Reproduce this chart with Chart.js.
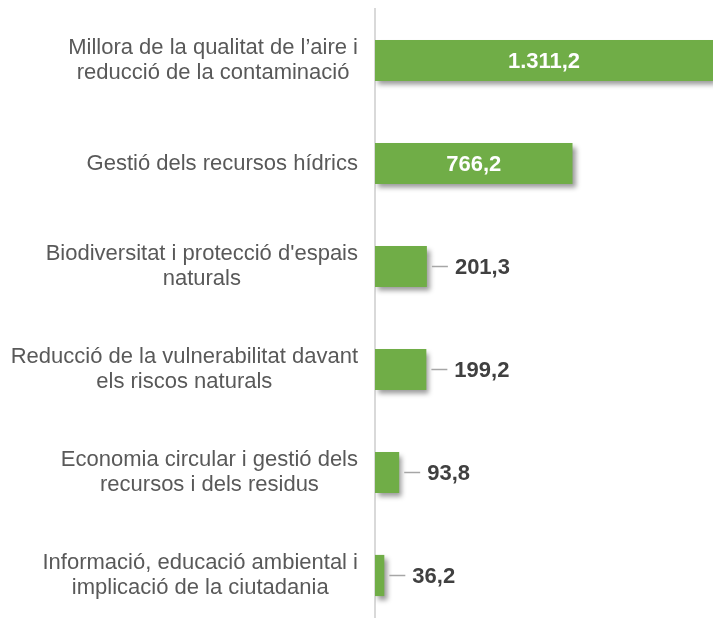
<!DOCTYPE html>
<html>
<head>
<meta charset="utf-8">
<script src="https://cdn.jsdelivr.net/npm/chart.js@4"></script>
<style>
  html, body { margin: 0; padding: 0; background: #fff; overflow: hidden; }
  #wrap { width: 713px; height: 628px; position: relative; }
</style>
</head>
<body>
<div id="wrap"><canvas id="envChart"></canvas></div>
<script>
const categories = [
  ['Millora de la qualitat de l’aire i', 'reducció de la contaminació'],
  ['Gestió dels recursos hídrics'],
  ["Biodiversitat i protecció d'espais", 'naturals'],
  ['Reducció de la vulnerabilitat davant', 'els riscos naturals'],
  ['Economia circular i gestió dels', 'recursos i dels residus'],
  ['Informació, educació ambiental i', 'implicació de la ciutadania']
];
const values = [1311.2, 766.2, 201.3, 199.2, 93.8, 36.2];

// catalan number format: 1.311,2
function fmt(v) {
  const parts = v.toFixed(1).split('.');
  return parts[0].replace(/\B(?=(\d{3})+(?!\d))/g, '.') + ',' + parts[1];
}

const shadowPlugin = {
  id: 'barShadow',
  beforeDatasetsDraw(chart) {
    const ctx = chart.ctx;
    ctx.save();
    ctx.shadowColor = 'rgba(0,0,0,0.4)';
    ctx.shadowBlur = 5;
    ctx.shadowOffsetX = 3;
    ctx.shadowOffsetY = 4;
  },
  afterDatasetsDraw(chart) {
    chart.ctx.restore();
  }
};

const labelPlugin = {
  id: 'labels',
  afterDraw(chart) {
    const ctx = chart.ctx;
    const yScale = chart.scales.y;
    ctx.save();
    ctx.textBaseline = 'middle';

    // category labels, lines centred inside a right-aligned block
    ctx.font = '22px "Liberation Sans", Arial, sans-serif';
    ctx.fillStyle = '#595959';
    ctx.textAlign = 'center';
    categories.forEach((lines, i) => {
      const yc = yScale.getPixelForValue(i);
      const w = Math.max(...lines.map(l => ctx.measureText(l).width));
      const cx = 358 - w / 2;
      lines.forEach((l, j) => {
        ctx.fillText(l, cx, yc + (j - (lines.length - 1) / 2) * 25);
      });
    });

    // value labels
    ctx.font = 'bold 22px "Liberation Sans", Arial, sans-serif';
    const meta = chart.getDatasetMeta(0);
    meta.data.forEach((bar, i) => {
      const txt = fmt(values[i]);
      const width = bar.x - bar.base;
      if (width > 120) {
        ctx.fillStyle = '#ffffff';
        ctx.textAlign = 'center';
        ctx.fillText(txt, (bar.x + bar.base) / 2, bar.y + 1);
      } else {
        ctx.strokeStyle = '#a6a6a6';
        ctx.lineWidth = 1.5;
        ctx.beginPath();
        ctx.moveTo(bar.x + 5, bar.y);
        ctx.lineTo(bar.x + 21, bar.y);
        ctx.stroke();
        ctx.fillStyle = '#404040';
        ctx.textAlign = 'left';
        ctx.fillText(txt, bar.x + 28, bar.y + 1);
      }
    });
    ctx.restore();
  }
};

new Chart(document.getElementById('envChart'), {
  type: 'bar',
  data: {
    labels: categories,
    datasets: [{
      data: values,
      backgroundColor: '#70ad47',
      borderWidth: 0,
      categoryPercentage: 1,
      barPercentage: 0.4
    }]
  },
  options: {
    indexAxis: 'y',
    responsive: true,
    maintainAspectRatio: false,
    animation: false,
    layout: { padding: { left: 367, right: 0, top: 9, bottom: 1 } },
    plugins: { legend: { display: false }, tooltip: { enabled: false } },
    scales: {
      x: {
        display: false,
        min: 0,
        max: Math.max(...values)
      },
      y: {
        ticks: { display: false },
        grid: { display: false },
        border: { display: true, color: '#d9d9d9', width: 2 }
      }
    }
  },
  plugins: [shadowPlugin, labelPlugin]
});
</script>
</body>
</html>
